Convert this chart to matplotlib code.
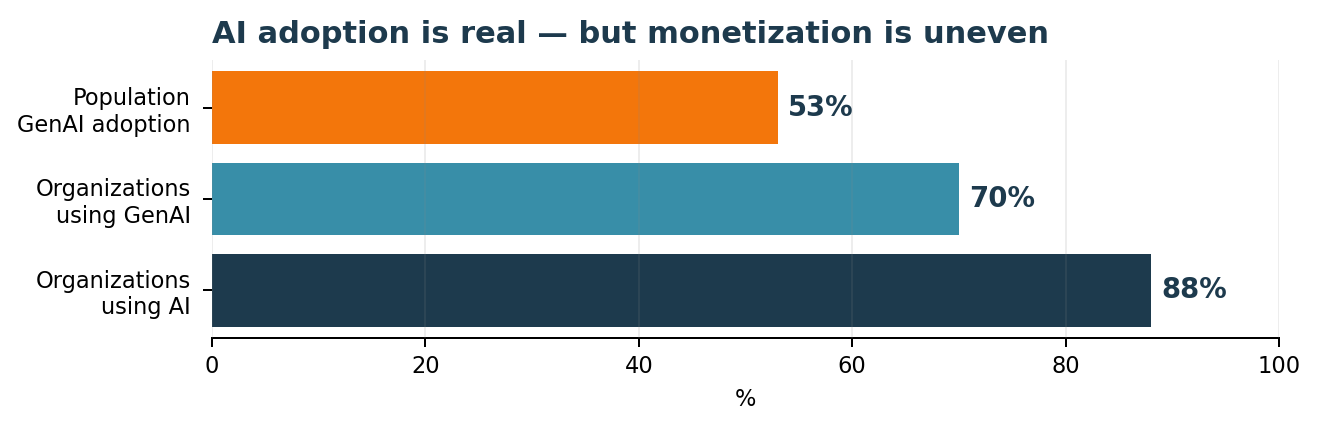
import matplotlib
matplotlib.use("Agg")
import matplotlib.pyplot as plt

labels = ["Organizations\nusing AI", "Organizations\nusing GenAI", "Population\nGenAI adoption"]
values = [88, 70, 53]
colors = ["#1d3a4d", "#388ea8", "#f3760b"]

DARK = "#1d3a4d"
DPI = 180

fig = plt.figure(figsize=(1320 / DPI, 430 / DPI), dpi=DPI)
ax = fig.add_axes([0.1606, 0.214, 0.969 - 0.1606, 0.8605 - 0.214])

ax.barh(range(len(values)), values, color=colors, height=0.8, zorder=2)
for i, v in enumerate(values):
    ax.text(v + 1, i, f"{v}%", va="center", ha="left", fontsize=11,
            fontweight="bold", color=DARK, zorder=3)

ax.set_yticks(range(len(values)))
ax.set_yticklabels(labels, fontsize=9)
ax.tick_params(axis="y", pad=5)
ax.margins(y=0.045)
ax.set_xlim(0, 100)
ax.set_xticks([0, 20, 40, 60, 80, 100])
ax.tick_params(axis="x", labelsize=9)
ax.set_xlabel("%", fontsize=9)

ax.grid(axis="x", color="#888888", alpha=0.15, linewidth=0.8, zorder=3)
ax.set_axisbelow(False)
for s in ["top", "right", "left"]:
    ax.spines[s].set_visible(False)

ax.set_title("AI adoption is real — but monetization is uneven", loc="left",
             fontsize=12.2, fontweight="bold", color=DARK, pad=6.8)

fig.savefig("out.png", dpi=DPI)
